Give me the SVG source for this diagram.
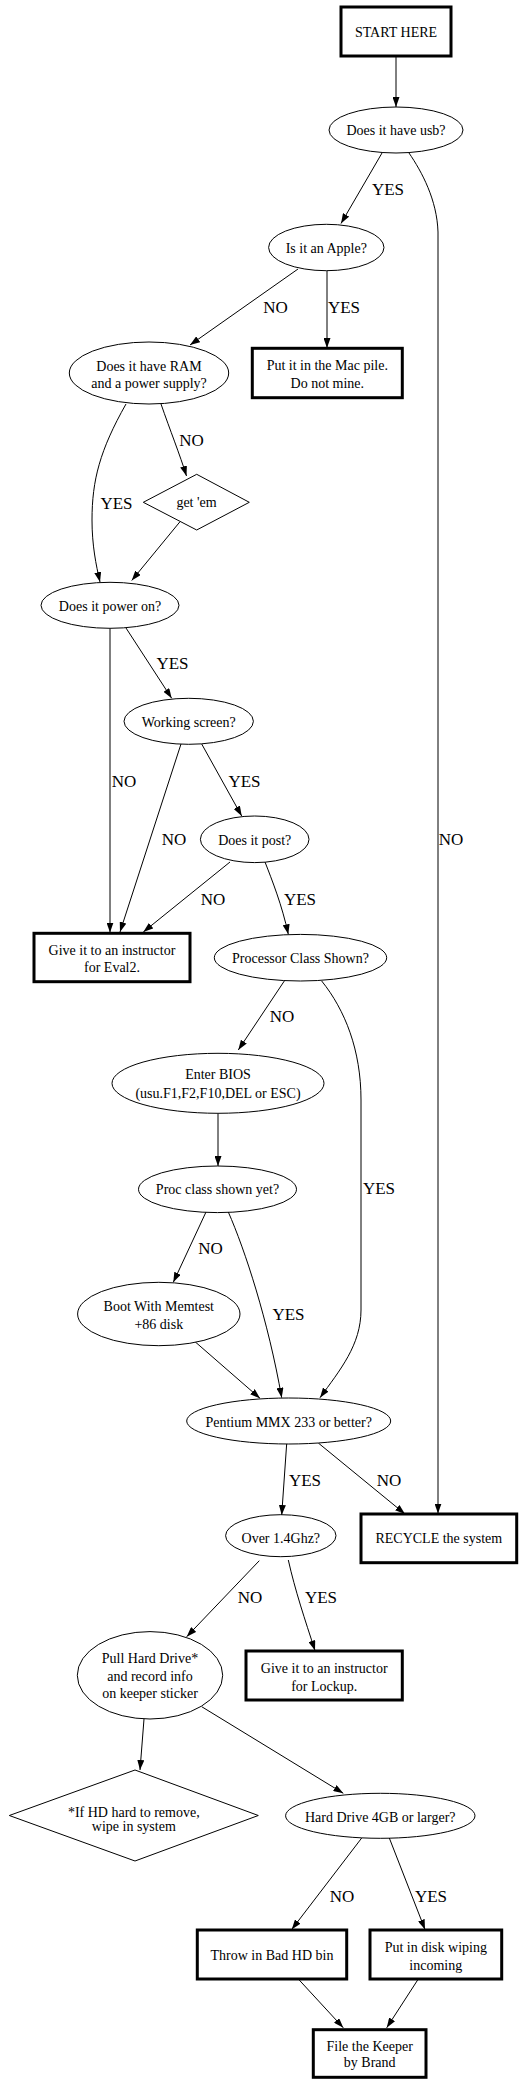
<svg xmlns="http://www.w3.org/2000/svg" width="524" height="2084" viewBox="0 0 524 2084">
<style>
.n{fill:#fff;stroke:#000;stroke-width:1}
.b{fill:#fff;stroke:#000;stroke-width:3}
.t{font-family:'Liberation Serif',serif;font-size:14px;fill:#000;text-anchor:middle}
.l{font-family:'Liberation Serif',serif;font-size:17px;fill:#000;text-anchor:middle}
.e{fill:none;stroke:#000;stroke-width:1;marker-end:url(#ah)}
</style>
<defs>
<marker id="ah" viewBox="0 0 10 7" refX="10" refY="3.5" markerWidth="10" markerHeight="7" markerUnits="userSpaceOnUse" orient="auto">
<path d="M0,0 L10,3.5 L0,7 z" fill="#000"/>
</marker>
</defs>
<rect width="524" height="2084" fill="#fff"/>
<g id="edges">
<path class="e" d="M396,56 L396,107"/>
<path class="e" d="M382,153 L341,223.5"/>
<text class="l" x="388" y="195">YES</text>
<path class="e" d="M409,153 C422,172 437,200 438,232 L438,1513.5"/>
<text class="l" x="451" y="845">NO</text>
<path class="e" d="M298,269 L190,345"/>
<text class="l" x="275.5" y="313">NO</text>
<path class="e" d="M327,271 L327,348"/>
<text class="l" x="344" y="313">YES</text>
<path class="e" d="M161,404 C170,430 180,455 186.5,476"/>
<text class="l" x="191.5" y="446">NO</text>
<path class="e" d="M126,404 C100,450 92,480 92,520 C92,545 96,565 100,582"/>
<text class="l" x="116.5" y="509">YES</text>
<path class="e" d="M180,521.7 L131.7,580.5"/>
<path class="e" d="M110,628.5 L110,932.5"/>
<text class="l" x="124" y="787">NO</text>
<path class="e" d="M126,628 L171.7,698.3"/>
<text class="l" x="172.5" y="669">YES</text>
<path class="e" d="M181,744 L120,932"/>
<text class="l" x="174" y="845">NO</text>
<path class="e" d="M201.7,744 L241.7,816"/>
<text class="l" x="244.5" y="787">YES</text>
<path class="e" d="M230,862 L143.3,932"/>
<text class="l" x="213" y="905">NO</text>
<path class="e" d="M265,862 C272,880 282,905 288.3,934.3"/>
<text class="l" x="300" y="905">YES</text>
<path class="e" d="M284.3,981 L238.3,1050"/>
<text class="l" x="282" y="1022">NO</text>
<path class="e" d="M321.7,981 C345,1010 361,1050 361,1100 L361,1310 C361,1345 340,1370 320,1397.7"/>
<text class="l" x="379" y="1194">YES</text>
<path class="e" d="M218,1113.5 L218,1166"/>
<path class="e" d="M206,1212 L173.3,1282.3"/>
<text class="l" x="210.5" y="1254">NO</text>
<path class="e" d="M228.3,1212 C245,1250 268,1320 281.7,1397.7"/>
<text class="l" x="288.5" y="1320">YES</text>
<path class="e" d="M195,1341.7 L260,1398.3"/>
<path class="e" d="M286.7,1443.5 L281.7,1515"/>
<text class="l" x="305" y="1486">YES</text>
<path class="e" d="M318.3,1443 L405,1514"/>
<text class="l" x="389" y="1486">NO</text>
<path class="e" d="M259.3,1560.7 L186.7,1636.7"/>
<text class="l" x="250" y="1603">NO</text>
<path class="e" d="M288.3,1560 C295,1590 305,1620 315,1650.5"/>
<text class="l" x="321" y="1603">YES</text>
<path class="e" d="M144,1719 L140,1770"/>
<path class="e" d="M201.7,1706.7 L343.3,1793.3"/>
<path class="e" d="M361.7,1838 L291.7,1929.5"/>
<text class="l" x="342" y="1902">NO</text>
<path class="e" d="M389.3,1838 L425,1929.5"/>
<text class="l" x="431" y="1902">YES</text>
<path class="e" d="M298.3,1979 L343.3,2027.8"/>
<path class="e" d="M418.3,1979 L386.7,2027.8"/>
</g>
<g id="start"><rect class="b" x="341" y="7" width="110" height="49"/><text class="t" x="396" y="37">START HERE</text></g>
<g id="usb"><ellipse class="n" cx="396" cy="130" rx="67" ry="23"/><text class="t" x="396" y="135">Does it have usb?</text></g>
<g id="apple"><ellipse class="n" cx="326.3" cy="247.5" rx="57.7" ry="23.2"/><text class="t" x="326.3" y="252.5">Is it an Apple?</text></g>
<g id="mac"><rect class="b" x="252.3" y="348.3" width="150" height="49.4"/><text class="t" x="327.3" y="370">Put it in the Mac pile.</text><text class="t" x="327.3" y="387.5">Do not mine.</text></g>
<g id="ram"><ellipse class="n" cx="149" cy="373" rx="79.7" ry="31"/><text class="t" x="149" y="370.5">Does it have RAM</text><text class="t" x="149" y="388">and a power supply?</text></g>
<g id="getem"><polygon class="n" points="196.7,474.3 249.3,502.3 196.7,530 143.3,502.3"/><text class="t" x="196.5" y="507">get 'em</text></g>
<g id="power"><ellipse class="n" cx="110" cy="605.3" rx="69" ry="23"/><text class="t" x="110" y="610.5">Does it power on?</text></g>
<g id="working"><ellipse class="n" cx="188.7" cy="721.3" rx="64.7" ry="23"/><text class="t" x="188.7" y="727">Working screen?</text></g>
<g id="post"><ellipse class="n" cx="254.7" cy="839.3" rx="54.3" ry="23.3"/><text class="t" x="254.7" y="845">Does it post?</text></g>
<g id="eval2"><rect class="b" x="34" y="933.3" width="156" height="48.4"/><text class="t" x="112" y="955">Give it to an instructor</text><text class="t" x="112" y="971.5">for Eval2.</text></g>
<g id="processor"><ellipse class="n" cx="300.5" cy="957.7" rx="86.2" ry="23.3"/><text class="t" x="300.5" y="962.5">Processor Class Shown?</text></g>
<g id="bios"><ellipse class="n" cx="218" cy="1083.3" rx="106" ry="30"/><text class="t" x="218" y="1079">Enter BIOS</text><text class="t" x="218" y="1097.5">(usu.F1,F2,F10,DEL or ESC)</text></g>
<g id="procclass"><ellipse class="n" cx="217.5" cy="1189.3" rx="79" ry="23.3"/><text class="t" x="217.5" y="1194">Proc class shown yet?</text></g>
<g id="memtest"><ellipse class="n" cx="158.8" cy="1314" rx="81.2" ry="31.7"/><text class="t" x="158.8" y="1311">Boot With Memtest</text><text class="t" x="158.8" y="1329">+86 disk</text></g>
<g id="pentium"><ellipse class="n" cx="288.7" cy="1421" rx="102" ry="23"/><text class="t" x="288.7" y="1427">Pentium MMX 233 or better?</text></g>
<g id="recycle"><rect class="b" x="361" y="1514" width="155.7" height="48.7"/><text class="t" x="438.8" y="1543">RECYCLE the system</text></g>
<g id="over"><ellipse class="n" cx="280.8" cy="1535.7" rx="55.2" ry="21"/><text class="t" x="280.8" y="1543">Over 1.4Ghz?</text></g>
<g id="pull"><ellipse class="n" cx="150" cy="1675.3" rx="72.7" ry="43.7"/><text class="t" x="150" y="1663">Pull Hard Drive*</text><text class="t" x="150" y="1681">and record info</text><text class="t" x="150" y="1698">on keeper sticker</text></g>
<g id="lockup"><rect class="b" x="246" y="1651" width="156.3" height="49"/><text class="t" x="324.2" y="1673">Give it to an instructor</text><text class="t" x="324.2" y="1690.5">for Lockup.</text></g>
<g id="hdnote"><polygon class="n" points="135,1770 258.3,1815.5 135,1861 9.3,1815.5"/><text class="t" x="133.8" y="1816.5">*If HD hard to remove,</text><text class="t" x="133.8" y="1831">wipe in system</text></g>
<g id="hd4gb"><ellipse class="n" cx="380.3" cy="1815.8" rx="94.7" ry="22.5"/><text class="t" x="380.3" y="1821.5">Hard Drive 4GB or larger?</text></g>
<g id="badhd"><rect class="b" x="197.3" y="1930" width="149.4" height="49"/><text class="t" x="272" y="1959.5">Throw in Bad HD bin</text></g>
<g id="wiping"><rect class="b" x="370" y="1930" width="131.7" height="49"/><text class="t" x="435.8" y="1951.5">Put in disk wiping</text><text class="t" x="435.8" y="1970">incoming</text></g>
<g id="keeper"><rect class="b" x="313.3" y="2029.7" width="112.7" height="47.6"/><text class="t" x="369.7" y="2050.5">File the Keeper</text><text class="t" x="369.7" y="2067">by Brand</text></g>
</svg>
